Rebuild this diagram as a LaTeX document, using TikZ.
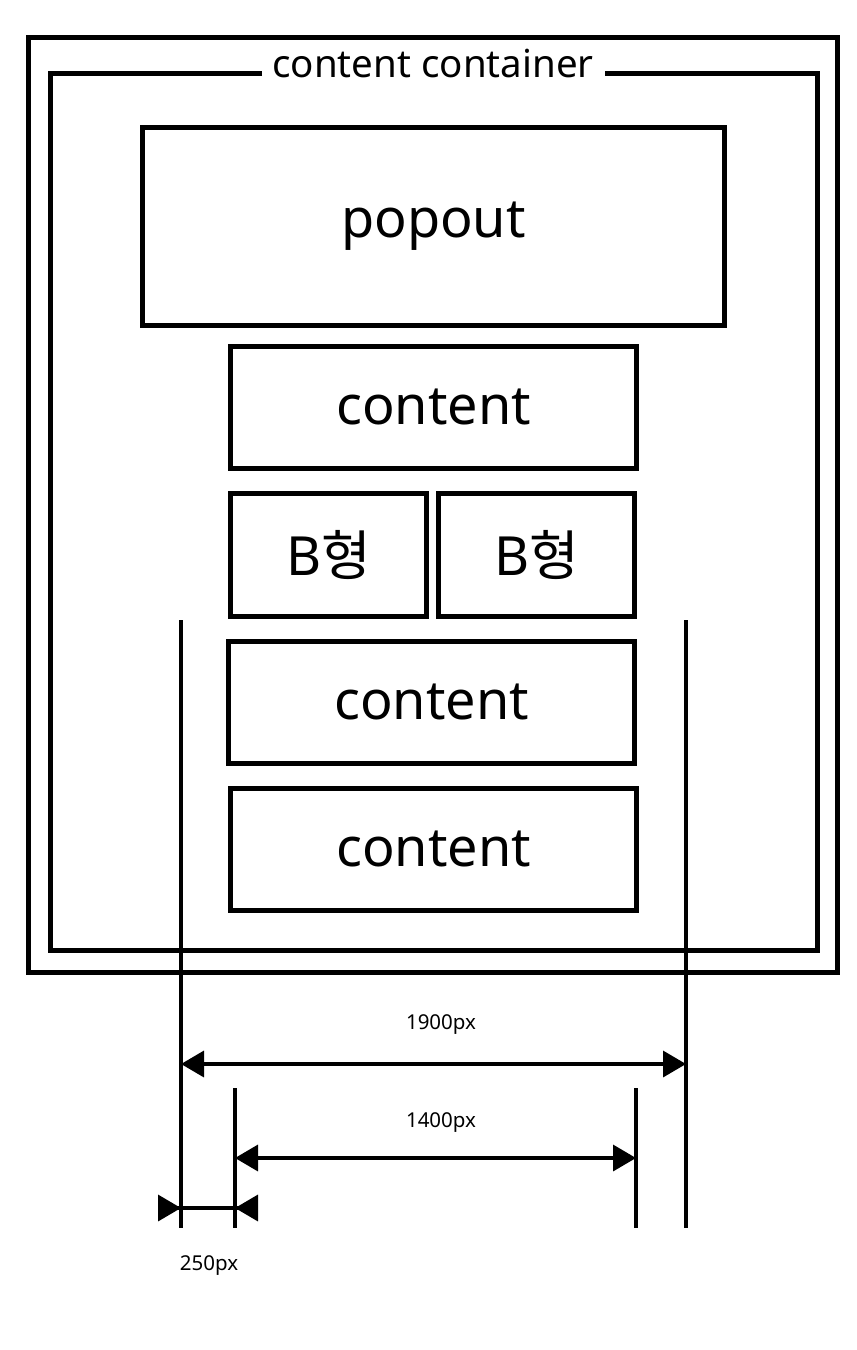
\documentclass[tikz,border=0pt]{standalone}
\usepackage{fontspec}
\setmainfont{Noto Sans}
\newfontfamily\kor{Noto Sans CJK KR}
\usetikzlibrary{arrows.meta,positioning}

\begin{document}
\begin{tikzpicture}[
  x=1pt,y=-1pt,
  frame/.style={draw,line width=5pt},
  box/.style={draw,line width=5pt,inner sep=0pt,minimum width=406pt,minimum height=122pt,font=\fontsize{54}{60}\selectfont},
  half/.style={box,minimum width=196pt,minimum height=123pt},
  guide/.style={line width=3.5pt},
  dim/.style={line width=3.5pt,{Triangle[length=23pt,width=26pt]}-{Triangle[length=23pt,width=26pt]}},
  dimin/.style={line width=3.5pt,{Triangle[reversed,length=23pt,width=26pt]}-{Triangle[reversed,length=23pt,width=26pt]},shorten <=-23pt,shorten >=-23pt},
  dimlabel/.style={font=\fontsize{20.5}{24}\selectfont}
]
\useasboundingbox (0,0) rectangle (857,1350);
% containers
\draw[frame] (28,37) rectangle (837,972);
\node[font=\fontsize{38.5}{44}\selectfont] (cclabel) at (433,64) {content container};
\draw[frame] (262,73) -| (50,950) -| (817,73) -- (605,73);
% boxes
\node[box,minimum width=582pt,minimum height=198pt] (popout) at (433.5,226) {popout};
\node[box,below=16pt of popout] (content1) {content};
\node[half,below=20pt of content1.south west,anchor=north west] (b1) {B{\kor 형}};
\node[half,right=7pt of b1] (b2) {B{\kor 형}};
\node[box,below=20pt of b1.south west,anchor=north west,xshift=-2pt] (content2) {content};
\node[box,below=20pt of content2.south,xshift=2pt] (content3) {content};
% guides
\draw[guide] (181,620) -- (181,1228);
\draw[guide] (686,620) -- (686,1228);
\draw[guide] (235,1088) -- (235,1228);
\draw[guide] (636,1088) -- (636,1228);
% dimensions
\coordinate (wideL) at (181,1064);
\coordinate (wideR) at (686,1064);
\coordinate (midL) at (235,1158);
\coordinate (midR) at (636,1158);
\coordinate (sideL) at (181,1208);
\coordinate (sideR) at (235,1208);
\draw[dim] (wideL) -- (wideR);
\draw[dim] (midL) -- (midR);
\draw[dimin] (sideL) -- (sideR);
\node[dimlabel] (lab1900) at (441,1025) {1900px};
\node[dimlabel] (lab1400) at (441,1123) {1400px};
\node[dimlabel] (lab250) at (209,1266) {250px};
\end{tikzpicture}
\end{document}
